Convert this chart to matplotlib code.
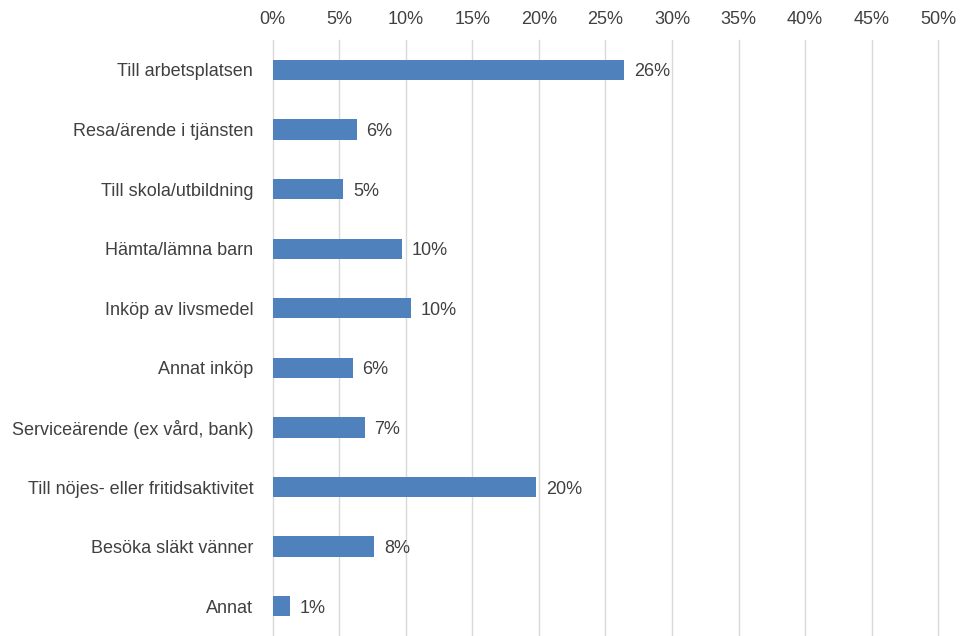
import matplotlib.pyplot as plt
from matplotlib.ticker import MultipleLocator, FuncFormatter

plt.rcParams['font.family'] = ['Liberation Sans', 'DejaVu Sans']

categories = [
    'Till arbetsplatsen',
    'Resa/ärende i tjänsten',
    'Till skola/utbildning',
    'Hämta/lämna barn',
    'Inköp av livsmedel',
    'Annat inköp',
    'Serviceärende (ex vård, bank)',
    'Till nöjes- eller fritidsaktivitet',
    'Besöka släkt vänner',
    'Annat',
]
shares = [26.4, 6.3, 5.3, 9.7, 10.4, 6.0, 6.9, 19.8, 7.6, 1.3]

text_color = '#404040'
bar_color = '#4F81BD'


def main():
    fig = plt.figure(figsize=(9.6, 6.36), dpi=100)
    ax = fig.add_axes([0.284, 0.0, 0.6934, 0.937])

    y = range(len(categories))
    ax.barh(y, shares, height=0.34, color=bar_color, zorder=3)
    for yi, v in zip(y, shares):
        ax.text(v + 0.75, yi, f'{v:.0f}%', va='center_baseline', ha='left',
                fontsize=13, color=text_color)

    ax.set_xlim(0, 50)
    ax.set_ylim(len(categories) - 0.5, -0.5)
    ax.set_yticks(list(y))
    ax.set_yticklabels(categories)

    ax.xaxis.tick_top()
    ax.xaxis.set_major_locator(MultipleLocator(5))
    ax.xaxis.set_major_formatter(FuncFormatter(lambda v, _: f'{v:.0f}%'))
    ax.tick_params(axis='x', length=0, pad=9, labelsize=13, colors=text_color)
    ax.tick_params(axis='y', length=0, pad=14, labelsize=13, colors=text_color)

    ax.grid(axis='x', color='#D9D9D9', linewidth=1, zorder=0)
    for gl in ax.get_xgridlines():
        gl.set_clip_on(False)
    for side in ax.spines.values():
        side.set_visible(False)

    fig.savefig('out.png', dpi=100)


if __name__ == '__main__':
    main()
